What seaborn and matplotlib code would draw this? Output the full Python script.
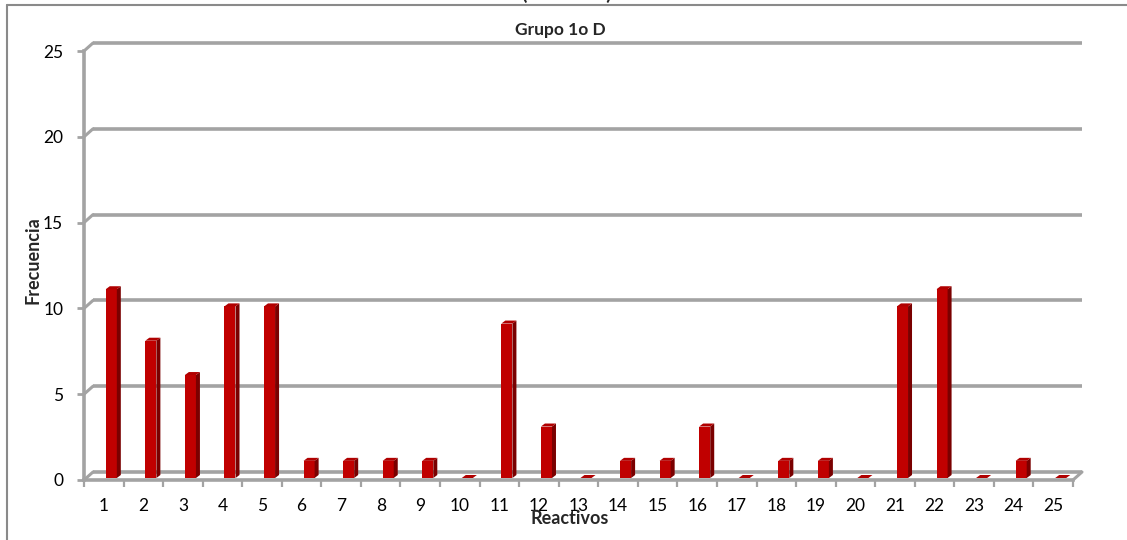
import matplotlib
matplotlib.use("Agg")
import matplotlib.pyplot as plt
import matplotlib.transforms as mtransforms
from matplotlib.patches import Polygon
from matplotlib.lines import Line2D
import seaborn as sns
import pandas as pd

# ---- data ----
reactivos = [str(i) for i in range(1, 26)]
frecuencia = [11, 8, 6, 10, 10, 1, 1, 1, 1, 0, 9, 3, 0, 1, 1, 3, 0, 1, 1, 0, 10, 11, 0, 1, 0]
yticks = [0, 5, 10, 15, 20, 25]
titulo = "Grupo 1o D"
titulo_sup = "(Gráfica 1)"
xlabel = "Reactivos"
ylabel = "Frecuencia"

sns.set_theme(style="white")
plt.rcParams['font.family'] = ['Lato', 'DejaVu Sans']

W, H, DPI = 1127, 540, 100
fig = plt.figure(figsize=(W / DPI, H / DPI), dpi=DPI)

# front plane of the 3D box
L, R, B, T = 84, 1073, 480, 51
ax = fig.add_axes([L / W, (H - B) / H, (R - L) / W, (B - T) / H])
ax.set_facecolor("none")

df = pd.DataFrame({"Reactivos": reactivos, "Frecuencia": frecuencia})
sns.barplot(data=df, x="Reactivos", y="Frecuencia", color="#C00000",
            saturation=1, width=0.28, ax=ax, zorder=3)
ax.set_xlim(-0.5, len(reactivos) - 0.5)
ax.set_ylim(0, 25)
ax.set_autoscale_on(False)

pxx = (len(reactivos)) / (R - L)   # data units per pixel (x)
pxy = 25 / (B - T)                  # data units per pixel (y)

grid_col = "#a3a3a3"
# back-wall offset
bdx, bdy = 9, 8
back = ax.transData + mtransforms.ScaledTranslation(bdx / DPI, bdy / DPI, fig.dpi_scale_trans)
x0, x1 = -0.5, len(reactivos) - 0.5
for t in yticks:
    ax.plot([x0, x1], [t, t], color=grid_col, lw=2.6, transform=back,
            zorder=1, clip_on=False, solid_capstyle="butt")
    ax.plot([x0, x0 + bdx * pxx], [t, t + bdy * pxy], color=grid_col, lw=2.2,
            zorder=1, clip_on=False)
# floor right edge
ax.plot([x1, x1 + bdx * pxx], [0, bdy * pxy], color=grid_col, lw=2.2,
        zorder=1, clip_on=False)

# bars: shift and add 3D faces
bar_off = mtransforms.ScaledTranslation(7.5 / DPI, 2 / DPI, fig.dpi_scale_trans)
bar_tr = ax.transData + bar_off
ddx, ddy = 4 * pxx, 3 * pxy
for p in list(ax.patches):
    p.set_transform(bar_tr)
    p.set_edgecolor("none")
    bx, bw, bh = p.get_x(), p.get_width(), p.get_height()
    side = Polygon([(bx + bw, 0), (bx + bw + ddx, ddy), (bx + bw + ddx, bh + ddy), (bx + bw, bh)],
                   closed=True, facecolor="#7a0000", edgecolor="none",
                   transform=bar_tr, zorder=3, clip_on=False)
    top = Polygon([(bx, bh), (bx + bw, bh), (bx + bw + ddx, bh + ddy), (bx + ddx, bh + ddy)],
                  closed=True, facecolor="#b00000", edgecolor="none",
                  transform=bar_tr, zorder=3, clip_on=False)
    ax.add_patch(side)
    ax.add_patch(top)

# spines / ticks
for s in ["top", "right"]:
    ax.spines[s].set_visible(False)
for s in ["left", "bottom"]:
    ax.spines[s].set_color(grid_col)
    ax.spines[s].set_linewidth(2.6)
ax.set_yticks(yticks)
ax.tick_params(axis="y", left=True, length=5, width=2, color=grid_col,
               pad=10, labelsize=12.5, labelcolor="black")
ax.set_xticks(range(len(reactivos)))
ax.set_xticklabels(reactivos)
ax.tick_params(axis="x", which="major", bottom=True, length=0, pad=13,
               labelsize=12.5, labelcolor="black")
ax.set_xticks([i - 0.5 for i in range(len(reactivos) + 1)], minor=True)
ax.tick_params(axis="x", which="minor", bottom=True, length=5, width=1.6, color=grid_col)
ax.set_xlabel("")
ax.set_ylabel("")
ax.grid(False)

# texts
fig.text(560 / W, 1 - 30 / H, titulo, ha="center", va="center",
         fontsize=12.5, fontweight="bold")
fig.text(567 / W, 1 - 3 / H, titulo_sup, ha="center", va="bottom",
         fontsize=14, fontweight="bold")
fig.text(570 / W, 1 - 519 / H, xlabel, ha="center", va="center",
         fontsize=13, fontweight="bold")
fig.text(33 / W, 1 - 260 / H, ylabel, ha="center", va="center",
         rotation=90, fontsize=13, fontweight="bold")

# outer chart frame (cropped)
fig.add_artist(Line2D([7 / W, 1], [1 - 5 / H, 1 - 5 / H], color="#8a8a8a", lw=1.5,
                      transform=fig.transFigure))
fig.add_artist(Line2D([7 / W, 7 / W], [0, 1 - 5 / H], color="#8a8a8a", lw=1.5,
                      transform=fig.transFigure))

fig.savefig("out.png", dpi=DPI, facecolor="white")
